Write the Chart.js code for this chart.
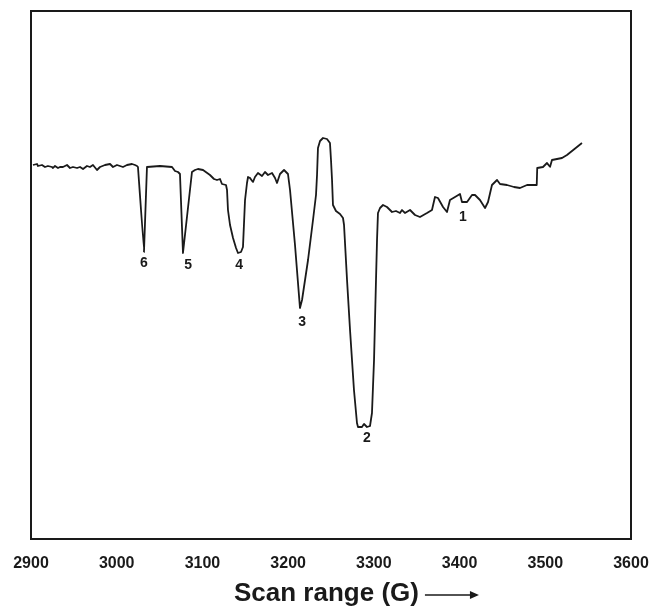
<!DOCTYPE html>
<html>
<head>
<meta charset="utf-8">
<script src="https://cdn.jsdelivr.net/npm/chart.js@4/dist/chart.umd.min.js"></script>
<style>
  html, body { margin: 0; padding: 0; background: #ffffff; }
  #wrap { width: 650px; height: 611px; }
</style>
</head>
<body>
<div id="wrap"><canvas id="c" width="650" height="611"></canvas></div>
<script>
// Magnetic field (G) and EPR signal intensity (arbitrary units)
const fieldG = [
  2902.3, 2907, 2908.2, 2912.8, 2916.3, 2919.8, 2924.5, 2925.7, 2928, 2931.5,
  2933.8, 2937.3, 2942, 2945.5, 2949, 2953.7, 2957.2, 2960.7, 2965.3, 2968.8,
  2972.3, 2977, 2980.5, 2986.3, 2992.2, 2995.7, 3000.3, 3003.8, 3007.3, 3012,
  3017.8, 3021.3, 3023.7,
  3024.8, 3031.8, 3035.3, 3050.5, 3064.5, 3068, 3071.5, 3073.8, 3077.3, 3087.8,
  3091.3, 3094.8, 3100.7, 3108.8, 3113.5, 3117, 3120.5, 3122.8, 3127.5, 3128.7,
  3129.8, 3132.2, 3135.7, 3139.2, 3141.5, 3145, 3147.3, 3149.7, 3152, 3153.2,
  3155.5, 3159, 3161.3, 3164.8, 3169.5, 3173, 3176.5, 3181.2, 3184.7, 3187,
  3190.5, 3195.2, 3199.8, 3202.2, 3208, 3213.8, 3216.2, 3223.2, 3229, 3232.5,
  3233.7, 3234.8, 3237.2, 3240.7, 3245.3, 3248.8, 3250, 3251.2, 3252.3, 3255.8,
  3260.5, 3264, 3265.2, 3268.7, 3272.2, 3276.8, 3280.3, 3281.5, 3286.2, 3288.5,
  3292, 3295.5, 3297.8, 3300.2, 3302.5, 3303.7, 3304.8, 3307.2, 3310.7, 3315.3,
  3321.2, 3325.8, 3330.5, 3332.8, 3336.3, 3342.2, 3348, 3353.8, 3362, 3367.8,
  3371.3, 3374.8, 3380.7, 3385.3, 3388.8, 3394.7, 3400.5, 3402.8, 3408.7, 3414.5,
  3418, 3423.8, 3429.7, 3433.2, 3437.8, 3443.7, 3447.2, 3455.3, 3463.5, 3470.5,
  3478.7, 3490, 3490.6, 3497.3, 3502, 3505.5, 3507.8, 3519.5, 3525.3, 3542.8
];
const intensity = [
  374, 375, 373, 374, 372, 373, 372, 371, 373, 371,
  372, 372, 374, 371, 372, 371, 372, 370, 373, 372,
  374, 369, 372, 374, 375, 372, 374, 373, 372, 374,
  375, 374, 373,
  372, 287, 372, 373, 372, 368, 367, 365, 286, 367,
  369, 370, 369, 364, 360, 359, 360, 355, 354, 349,
  329, 314, 301, 291, 286, 287, 292, 339, 356, 362,
  361, 357, 362, 366, 363, 367, 364, 366, 361, 356,
  365, 369, 365, 349, 294, 231, 239, 279, 319, 344,
  364, 391, 398, 401, 400, 396, 379, 359, 334, 328,
  325, 321, 314, 259, 209, 149, 116, 112, 112, 115,
  112, 113, 126, 179, 259, 299, 326, 331, 334, 332,
  327, 328, 326, 329, 326, 329, 324, 322, 326, 329,
  342, 341, 332, 327, 339, 342, 345, 337, 337, 344,
  344, 339, 331, 337, 354, 359, 355, 354, 352, 351,
  354, 354, 371, 372, 376, 372, 379, 381, 384, 396
];
// Peak numbering labels
const peakNames = ["6", "5", "4", "3", "2", "1"];
const peakFieldG = [3031.8, 3083.2, 3142.7, 3216.2, 3292, 3404];
const peakLabelY = [276, 274, 274, 217, 101, 322];

const xTicks = [2900, 3000, 3100, 3200, 3300, 3400, 3500, 3600];
const xTitle = "Scan range (G)";

const points = fieldG.map((g, i) => ({ x: g, y: intensity[i] }));

const decorPlugin = {
  id: 'decor',
  afterDraw(chart) {
    const ctx = chart.ctx;
    const a = chart.chartArea;
    const xs = chart.scales.x, ys = chart.scales.y;
    ctx.save();
    // frame
    ctx.strokeStyle = '#1a1a1a';
    ctx.lineWidth = 2;
    ctx.strokeRect(a.left, a.top, a.right - a.left, a.bottom - a.top);
    // peak labels
    ctx.fillStyle = '#1a1a1a';
    ctx.font = 'bold 14px "Liberation Sans", Arial, sans-serif';
    ctx.textAlign = 'center';
    ctx.textBaseline = 'middle';
    peakNames.forEach((n, i) => {
      ctx.fillText(n, xs.getPixelForValue(peakFieldG[i]), ys.getPixelForValue(peakLabelY[i]));
    });
    // axis title with arrow
    ctx.font = 'bold 26px "Liberation Sans", Arial, sans-serif';
    ctx.textAlign = 'left';
    const w = ctx.measureText(xTitle).width;
    const tx = 234;
    const ty = 594;
    ctx.fillText(xTitle, tx, ty);
    const ax0 = tx + w + 6, ax1 = ax0 + 54;
    ctx.lineWidth = 1.6;
    ctx.beginPath();
    ctx.moveTo(ax0, ty + 1);
    ctx.lineTo(ax1 - 2, ty + 1);
    ctx.stroke();
    ctx.beginPath();
    ctx.moveTo(ax1, ty + 1);
    ctx.lineTo(ax1 - 9, ty - 3);
    ctx.lineTo(ax1 - 9, ty + 5);
    ctx.closePath();
    ctx.fill();
    ctx.restore();
  }
};

new Chart(document.getElementById('c'), {
  type: 'line',
  data: {
    datasets: [{
      data: points,
      borderColor: '#1a1a1a',
      borderWidth: 1.8,
      borderJoinStyle: 'round',
      pointRadius: 0,
      tension: 0.0001,
      fill: false
    }]
  },
  options: {
    responsive: false,
    animation: false,
    layout: { padding: { left: 31, right: 19, top: 11, bottom: 0 } },
    plugins: { legend: { display: false }, tooltip: { enabled: false }, title: { display: false } },
    scales: {
      x: {
        type: 'linear',
        min: 2900,
        max: 3600,
        afterBuildTicks: (s) => { s.ticks = xTicks.map(v => ({ value: v })); },
        afterFit: (s) => { s.height = 72; s.paddingLeft = 0; s.paddingRight = 0; },
        grid: { display: false },
        border: { display: false },
        ticks: {
          padding: 7,
          maxRotation: 0,
          color: '#1a1a1a',
          font: { family: '"Liberation Sans", Arial, sans-serif', size: 16, weight: 'bold' },
          callback: (v) => String(v)
        }
      },
      y: {
        display: false,
        min: 0,
        max: 528
      }
    }
  },
  plugins: [decorPlugin]
});
</script>
</body>
</html>
